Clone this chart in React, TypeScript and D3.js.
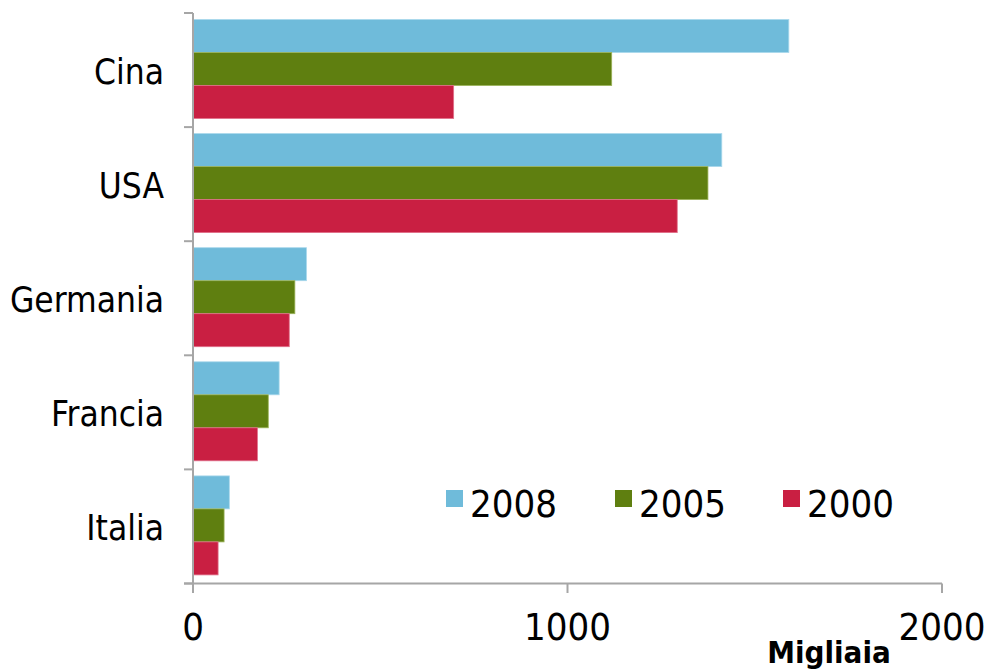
import React from "react";
import * as d3 from "d3";

const categories = ["Cina", "USA", "Germania", "Francia", "Italia"];
const seriesNames = ["2008", "2005", "2000"];
const values2008 = [1591, 1412, 303, 230, 97];
const values2005 = [1118, 1375, 272, 201, 83];
const values2000 = [696, 1293, 257, 172, 67];
const xTicks = [0, 1000, 2000];
const colors = ["#6FBBDA", "#5F7F10", "#C91F42"];
const strokes = ["#a9d8ec", "#9bb35a", "#e0708a"];
const unitLabel = "Migliaia";

const W = 987;
const H = 669;

export default function App() {
  const x = d3.scaleLinear().domain([0, 2000]).range([193, 942]);
  const y = d3.scaleBand<string>().domain(categories).range([13, 583.5]).paddingInner(0).paddingOuter(0);
  const bw = y.bandwidth();
  const sub = d3.scaleBand<string>().domain(seriesNames).range([6.5, 6.5 + 99]).padding(0);
  const allSeries = [values2008, values2005, values2000];
  const axisColor = "#a6a6a6";
  const labelFont = "'DejaVu Sans Condensed', 'DejaVu Sans', sans-serif";

  const boundaries = categories.map((c) => y(c) as number).concat([583.5]);

  const legendX = [446, 615, 783];

  return (
    <svg width={W} height={H} style={{ position: "absolute", left: 0, top: 0, background: "#fff" }}>
      {categories.map((c, ci) =>
        allSeries.map((vals, si) => (
          <rect
            key={c + si}
            x={x(0) + 0.5}
            y={(y(c) as number) + (sub(seriesNames[si]) as number)}
            width={x(vals[ci]) - x(0) - 0.5}
            height={sub.bandwidth()}
            fill={colors[si]}
            stroke={strokes[si]}
            strokeWidth={0.8}
          />
        ))
      )}
      <line x1={x(0)} x2={x(0)} y1={13} y2={593} stroke={axisColor} strokeWidth={2} />
      {boundaries.map((b, i) => (
        <line key={"yt" + i} x1={184} x2={x(0)} y1={b} y2={b} stroke={axisColor} strokeWidth={2} />
      ))}
      <line x1={184} x2={x(2000)} y1={583.5} y2={583.5} stroke={axisColor} strokeWidth={2} />
      {xTicks.map((t) => (
        <line key={"xt" + t} x1={x(t)} x2={x(t)} y1={583.5} y2={593} stroke={axisColor} strokeWidth={2} />
      ))}
      {xTicks.map((t) => (
        <text
          key={"xl" + t}
          x={x(t)}
          y={640}
          textAnchor="middle"
          fontFamily={labelFont}
          fontSize={38}
          fill="#000"
        >
          {t}
        </text>
      ))}
      {categories.map((c) => (
        <text
          key={"cl" + c}
          x={164}
          y={(y(c) as number) + bw / 2 + 14}
          textAnchor="end"
          fontFamily={labelFont}
          fontSize={35}
          fill="#000"
        >
          {c}
        </text>
      ))}
      <text x={829} y={663} textAnchor="middle" fontFamily={labelFont} fontWeight="bold" fontSize={31} fill="#000">
        {unitLabel}
      </text>
      {seriesNames.map((s, i) => (
        <g key={"lg" + s}>
          <rect x={legendX[i]} y={490} width={17} height={17} fill={colors[i]} />
          <text x={legendX[i] + 24} y={517} fontFamily={labelFont} fontSize={38} fill="#000">
            {s}
          </text>
        </g>
      ))}
    </svg>
  );
}
